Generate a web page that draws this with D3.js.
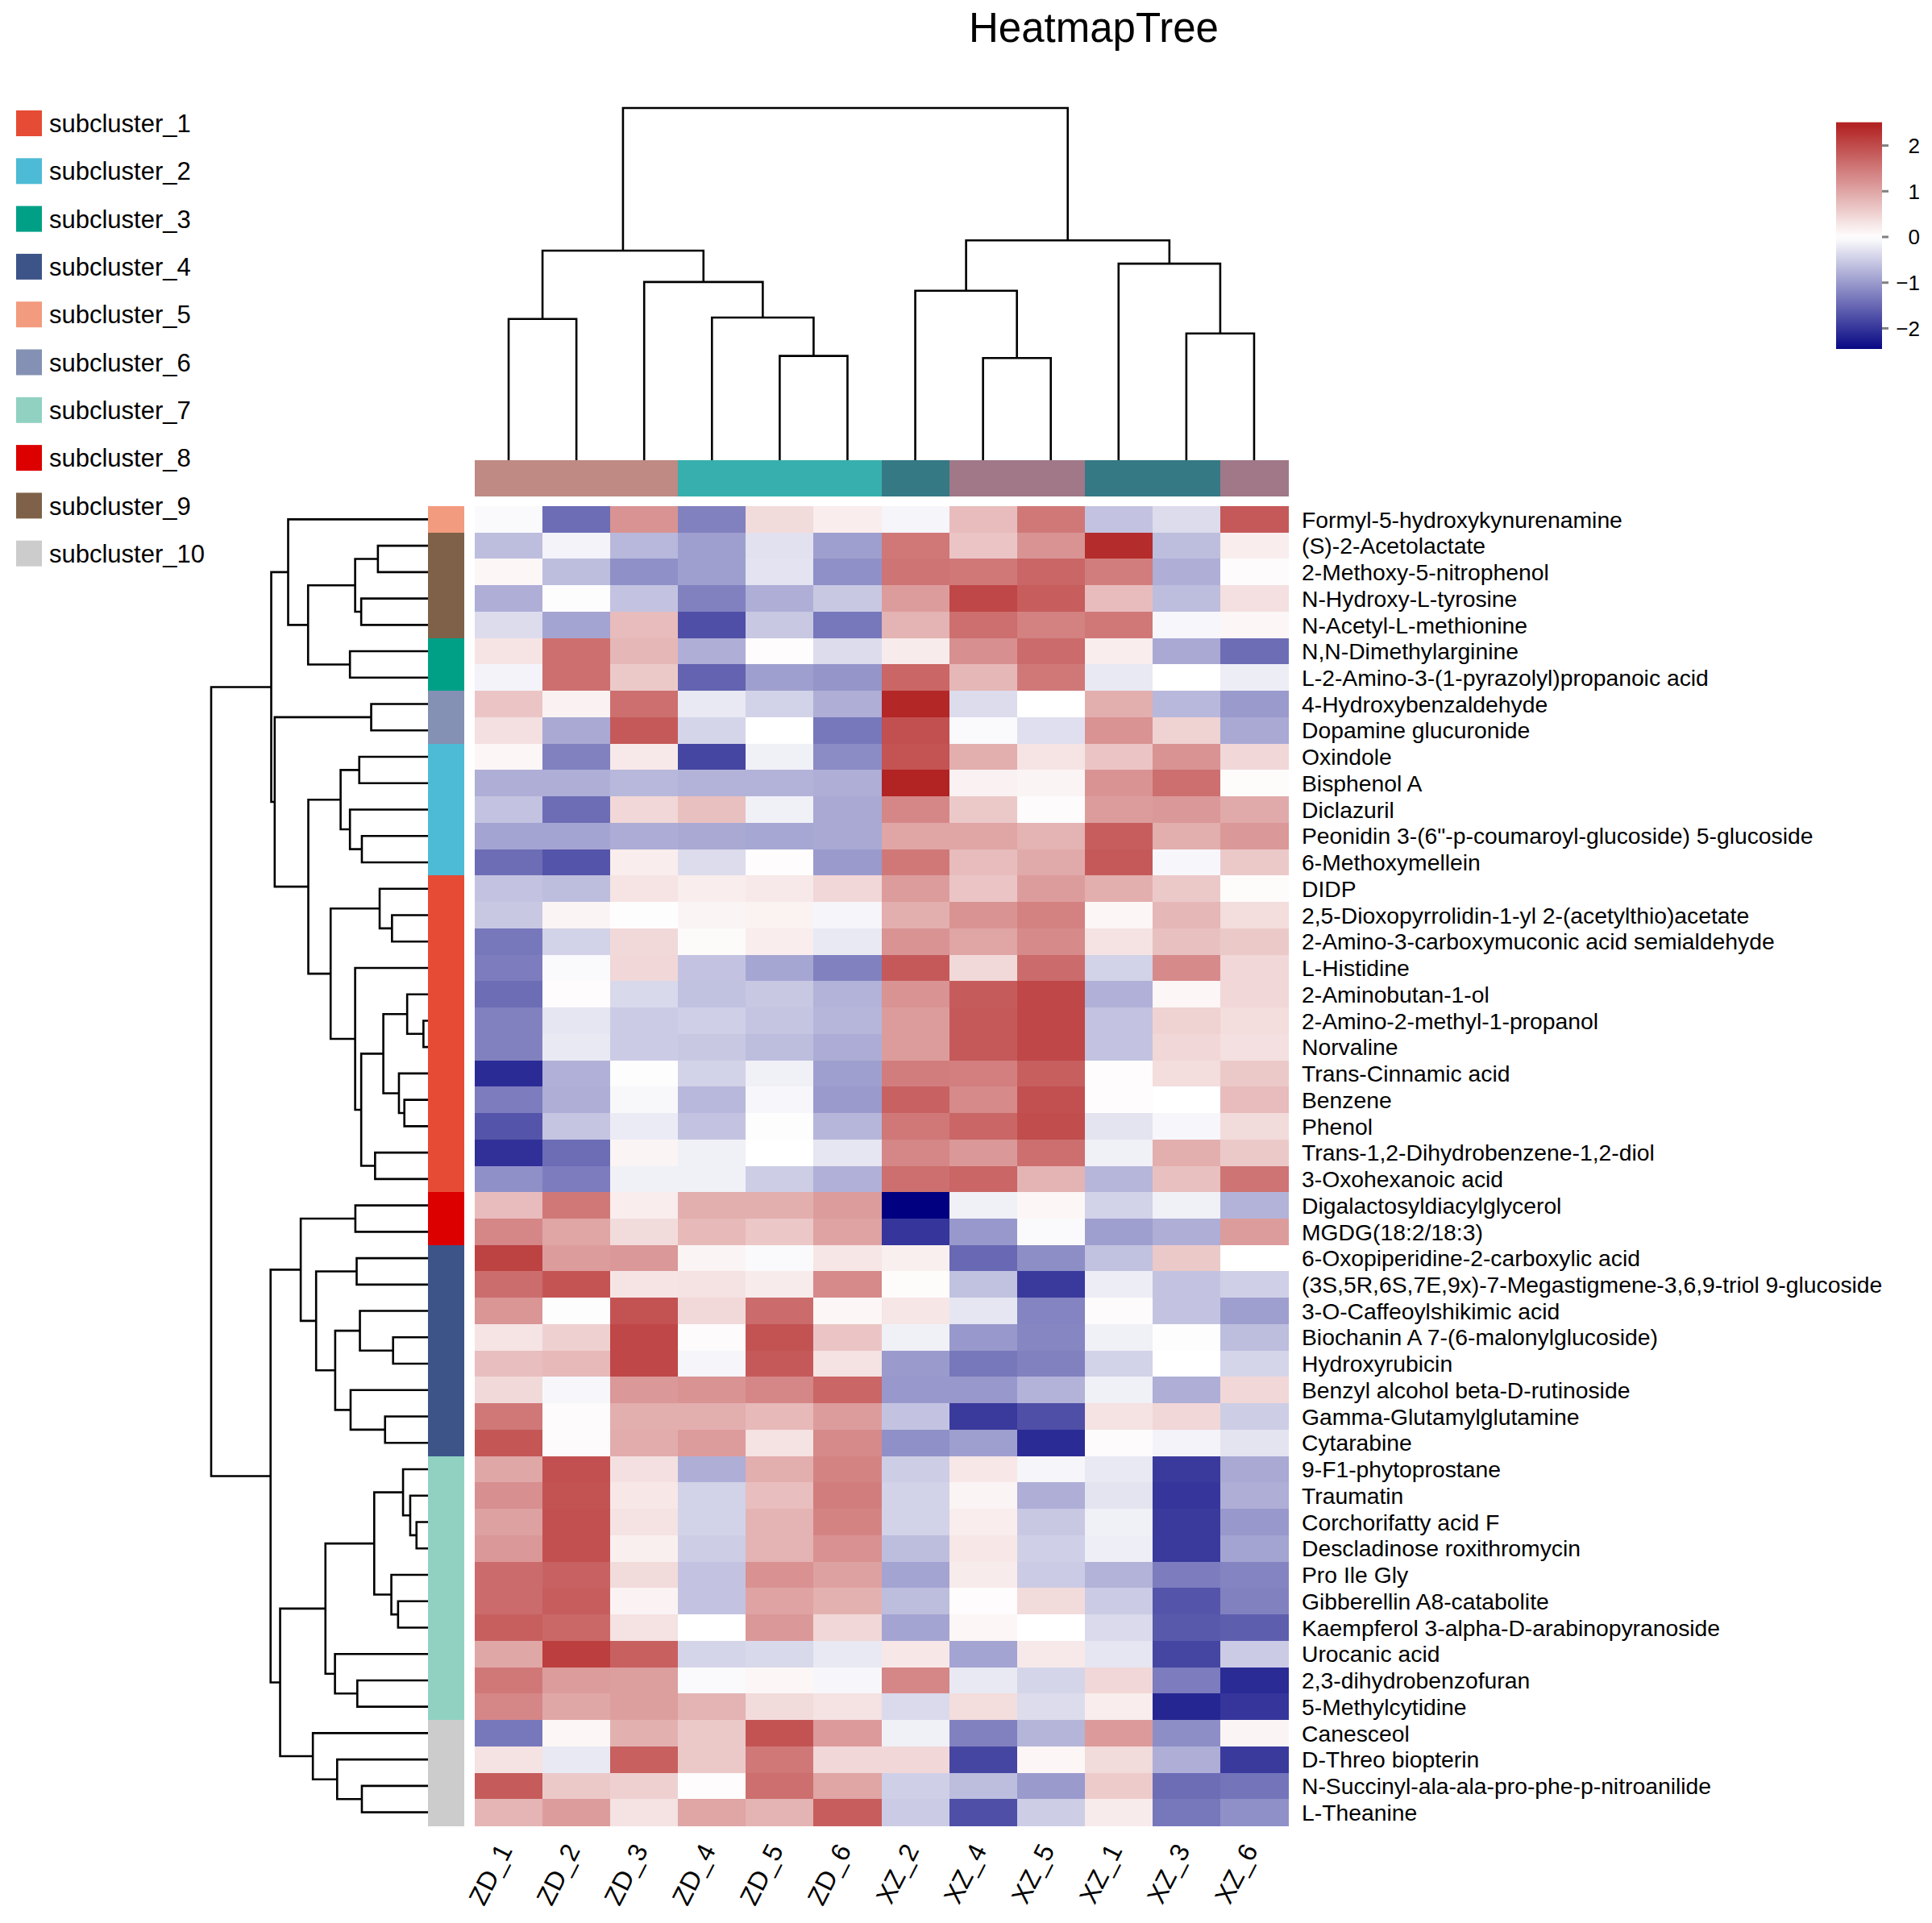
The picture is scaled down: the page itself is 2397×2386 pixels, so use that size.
<!DOCTYPE html>
<html>
<head>
<meta charset="utf-8">
<script src="https://cdn.jsdelivr.net/npm/d3@7"></script>
<style>
  body { margin: 0; background: #fff; }
  svg { display: block; }
  text { font-family: "Liberation Sans", Arial, Helvetica, sans-serif; fill: #000; }
</style>
</head>
<body>
<svg id="chart" width="2397" height="2386"></svg>
<script>
// ---- data ----
var colNames = ["ZD_1","ZD_2","ZD_3","ZD_4","ZD_5","ZD_6","XZ_2","XZ_4","XZ_5","XZ_1","XZ_3","XZ_6"];
var colGroup = [0,0,0,1,1,1,2,3,3,2,2,3];
var colGroupColors = ["#BE8A83","#37AFAE","#357985","#A07888"];

var rowNames = [
  "Formyl-5-hydroxykynurenamine","(S)-2-Acetolactate","2-Methoxy-5-nitrophenol","N-Hydroxy-L-tyrosine",
  "N-Acetyl-L-methionine","N,N-Dimethylarginine","L-2-Amino-3-(1-pyrazolyl)propanoic acid","4-Hydroxybenzaldehyde",
  "Dopamine glucuronide","Oxindole","Bisphenol A","Diclazuril",
  'Peonidin 3-(6"-p-coumaroyl-glucoside) 5-glucoside',"6-Methoxymellein","DIDP",
  "2,5-Dioxopyrrolidin-1-yl 2-(acetylthio)acetate","2-Amino-3-carboxymuconic acid semialdehyde","L-Histidine",
  "2-Aminobutan-1-ol","2-Amino-2-methyl-1-propanol","Norvaline","Trans-Cinnamic acid","Benzene","Phenol",
  "Trans-1,2-Dihydrobenzene-1,2-diol","3-Oxohexanoic acid","Digalactosyldiacylglycerol","MGDG(18:2/18:3)",
  "6-Oxopiperidine-2-carboxylic acid","(3S,5R,6S,7E,9x)-7-Megastigmene-3,6,9-triol 9-glucoside",
  "3-O-Caffeoylshikimic acid","Biochanin A 7-(6-malonylglucoside)","Hydroxyrubicin",
  "Benzyl alcohol beta-D-rutinoside","Gamma-Glutamylglutamine","Cytarabine","9-F1-phytoprostane","Traumatin",
  "Corchorifatty acid F","Descladinose roxithromycin","Pro Ile Gly","Gibberellin A8-catabolite",
  "Kaempferol 3-alpha-D-arabinopyranoside","Urocanic acid","2,3-dihydrobenzofuran","5-Methylcytidine",
  "Canesceol","D-Threo biopterin","N-Succinyl-ala-ala-pro-phe-p-nitroanilide","L-Theanine"
];

// subcluster of each row (1..10)
var rowCluster = [5,9,9,9,9,3,3,6,6,2,2,2,2,2,1,1,1,1,1,1,1,1,1,1,1,1,8,8,4,4,4,4,4,4,4,4,7,7,7,7,7,7,7,7,7,7,10,10,10,10];

var clusterNames = ["subcluster_1","subcluster_2","subcluster_3","subcluster_4","subcluster_5",
                    "subcluster_6","subcluster_7","subcluster_8","subcluster_9","subcluster_10"];
var clusterColors = ["#E64B35","#4DBBD5","#00A087","#3C5488","#F39B7F",
                     "#8491B4","#91D1C2","#DC0000","#7E6148","#CCCCCC"];

// scaled values, one row per metabolite, columns in colNames order
var values = [
  [-0.05,-1.45,1.2,-1.25,0.4,0.2,-0.1,0.75,1.5,-0.6,-0.35,1.85],
  [-0.65,-0.12,-0.7,-0.95,-0.3,-0.95,1.5,0.65,1.2,2.35,-0.65,0.2],
  [0.1,-0.65,-1.1,-0.95,-0.28,-1.1,1.55,1.5,1.7,1.45,-0.8,0.05],
  [-0.8,-0.02,-0.6,-1.25,-0.8,-0.55,1.1,2.05,1.8,0.75,-0.65,0.35],
  [-0.35,-0.9,0.75,-1.75,-0.55,-1.35,0.85,1.6,1.4,1.5,-0.08,0.1],
  [0.3,1.6,0.8,-0.8,0.03,-0.35,0.22,1.25,1.65,0.2,-0.85,-1.45],
  [-0.12,1.6,0.6,-1.55,-0.95,-1.05,1.7,0.8,1.5,-0.22,0,-0.18],
  [0.65,0.15,1.6,-0.22,-0.45,-0.8,2.4,-0.35,0,0.9,-0.7,-1.0],
  [0.35,-0.85,1.85,-0.42,0,-1.35,1.95,-0.05,-0.32,1.2,0.5,-0.85],
  [0.1,-1.25,0.25,-1.85,-0.15,-1.15,1.9,0.9,0.3,0.65,1.2,0.45],
  [-0.8,-0.8,-0.7,-0.75,-0.75,-0.8,2.45,0.15,0.12,1.2,1.6,0.04],
  [-0.6,-1.45,0.45,0.7,-0.15,-0.85,1.35,0.6,0.05,1.1,1.15,0.95],
  [-0.9,-0.9,-0.82,-0.85,-0.87,-0.85,1.0,1.0,0.85,1.8,0.9,1.15],
  [-1.45,-1.7,0.2,-0.35,0.03,-1.0,1.5,0.75,0.95,1.85,-0.08,0.6],
  [-0.6,-0.65,0.3,0.2,0.25,0.45,1.1,0.65,1.1,0.9,0.6,0.04],
  [-0.55,0.12,0.02,0.12,0.14,-0.1,0.9,1.2,1.4,0.1,0.8,0.38],
  [-1.35,-0.45,0.42,0.06,0.2,-0.22,1.2,1.0,1.3,0.32,0.7,0.6],
  [-1.3,-0.05,0.45,-0.6,-0.88,-1.25,1.85,0.42,1.65,-0.45,1.3,0.45],
  [-1.45,0.03,-0.38,-0.62,-0.55,-0.75,1.2,1.82,2.05,-0.78,0.1,0.45],
  [-1.25,-0.25,-0.52,-0.48,-0.58,-0.72,1.1,1.85,2.05,-0.6,0.5,0.38],
  [-1.25,-0.22,-0.52,-0.55,-0.65,-0.82,1.1,1.85,2.05,-0.6,0.45,0.34],
  [-2.1,-0.78,-0.02,-0.45,-0.15,-0.95,1.45,1.42,1.78,0.03,0.38,0.6],
  [-1.3,-0.8,-0.07,-0.7,-0.08,-1.0,1.75,1.3,1.95,0.03,0,0.75],
  [-1.7,-0.58,-0.2,-0.6,0.02,-0.72,1.5,1.7,1.98,-0.27,-0.08,0.4],
  [-2.05,-1.45,0.12,-0.15,0,-0.25,1.35,1.15,1.6,-0.15,0.9,0.6],
  [-1.1,-1.3,-0.15,-0.15,-0.5,-0.78,1.6,1.7,0.85,-0.72,0.7,1.55],
  [0.75,1.5,0.2,0.9,0.9,1.1,-2.53,-0.15,0.1,-0.45,-0.15,-0.75],
  [1.35,1.0,0.4,0.78,0.62,1.02,-2.0,-1.02,-0.05,-0.95,-0.8,1.1],
  [2.1,1.1,1.15,0.12,-0.05,0.28,0.18,-1.5,-1.12,-0.62,0.6,0],
  [1.62,1.9,0.3,0.32,0.22,1.3,0.04,-0.62,-1.95,-0.18,-0.6,-0.48],
  [1.18,0.02,1.92,0.42,1.65,0.1,0.28,-0.25,-1.22,0.05,-0.6,-0.95],
  [0.3,0.52,2.05,0.05,1.92,0.65,-0.15,-1.02,-1.2,-0.15,-0.02,-0.65],
  [0.72,0.78,2.05,-0.1,1.85,0.32,-1.0,-1.35,-1.25,-0.45,0,-0.42],
  [0.42,-0.08,1.15,1.2,1.35,1.7,-1.02,-1.02,-0.75,-0.15,-0.8,0.45],
  [1.5,0.05,0.9,0.9,0.78,1.1,-0.6,-1.95,-1.75,0.32,0.45,-0.5],
  [1.88,0.05,0.92,1.1,0.32,1.3,-1.1,-0.95,-2.1,0.05,-0.12,-0.27],
  [0.98,1.95,0.35,-0.8,0.9,1.38,-0.5,0.27,-0.1,-0.22,-1.95,-0.85],
  [1.25,1.92,0.27,-0.45,0.72,1.45,-0.45,0.12,-0.8,-0.27,-2.0,-0.8],
  [1.05,1.95,0.32,-0.45,0.85,1.38,-0.45,0.2,-0.55,-0.15,-1.95,-1.02],
  [1.15,1.95,0.18,-0.5,0.85,1.22,-0.65,0.27,-0.48,-0.17,-1.95,-0.9],
  [1.65,1.75,0.4,-0.6,1.22,1.05,-0.9,0.22,-0.52,-0.75,-1.3,-1.22],
  [1.65,1.8,0.13,-0.6,1.02,0.87,-0.65,0.03,0.4,-0.52,-1.7,-1.25],
  [1.78,1.68,0.32,0,1.15,0.45,-0.9,0.1,0,-0.37,-1.65,-1.6],
  [0.98,2.15,1.77,-0.42,-0.38,-0.22,0.27,-0.9,0.25,-0.25,-1.85,-0.52],
  [1.5,1.1,1.08,-0.05,0.1,-0.08,1.35,-0.22,-0.42,0.45,-1.3,-2.1],
  [1.35,0.98,1.08,0.85,0.4,0.32,-0.37,0.38,-0.35,0.2,-2.15,-2.0],
  [-1.35,0.1,0.88,0.6,1.92,1.12,-0.15,-1.25,-0.73,1.12,-1.12,0.12],
  [0.32,-0.22,1.77,0.6,1.5,0.45,0.45,-1.85,0.1,0.4,-0.8,-1.95],
  [1.82,0.6,0.52,0.03,1.6,1.0,-0.48,-0.65,-1.0,0.58,-1.45,-1.38],
  [0.82,1.1,0.32,1.0,0.85,1.8,-0.52,-1.75,-0.5,0.22,-1.35,-1.1]
];

// dendrograms: [mergeHeight, left, right], leaves are indices
var colTree = [10,
  [5.95, [4.01, 0, 1], [5.06, 2, [4.05, 3, [2.96, 4, 5]]]],
  [6.24, [4.81, 6, [2.90, 7, 8]], [5.58, 9, [3.60, 10, 11]]]
];
var rowTree = [10,
  [7.23,
    [6.45, 0, [5.53, [3.36, [2.31, 1, 2], [3.08, 3, 4]], [3.60, 5, 6]]],
    [7.07, [2.62, 7, 8],
      [5.52,
        [4.03, [3.17, 9, 10], [3.60, 11, [3.05, 12, 13]]],
        [4.49, [2.23, 14, [1.66, 15, 16]],
          [3.36, 17, [3.08, [2.06, [0.96, 18, [0.21, 19, 20]], [1.34, 21, [1.09, 22, 23]]], [2.44, 24, 25]]]]]]],
  [7.26,
    [5.87, [3.35, 26, 27],
      [5.16, [3.29, 28, 29],
        [4.28, [3.14, 30, [1.61, 31, 32]], [3.57, 33, [1.98, 34, 35]]]]],
    [6.82,
      [4.73,
        [2.48, [1.15, 36, [0.82, 37, [0.53, 38, 39]]], [1.69, 40, [1.38, 41, 42]]],
        [4.29, 43, [3.26, 44, 45]]],
      [5.31, 46, [4.19, 47, [3.05, 48, 49]]]]]
];

var legendTicks = [-2, -1, 0, 1, 2];

// ---- layout ----
var svg = d3.select("#chart");
var hmLeft = 589, hmRight = 1598, hmTop = 628, hmBottom = 2265;

var x = d3.scaleBand().domain(d3.range(colNames.length)).range([hmLeft, hmRight]);
var y = d3.scaleBand().domain(d3.range(rowNames.length)).range([hmTop, hmBottom]);
var color = d3.scaleLinear().domain([-2.53, 0, 2.46]).range(["#000080", "#ffffff", "#B22222"]).clamp(true);

// title
svg.append("text").attr("x", 1357).attr("y", 52).attr("text-anchor", "middle")
  .style("font-size", "51px").text("HeatmapTree");

// heatmap cells
var cells = [];
values.forEach(function(row, i) {
  row.forEach(function(v, j) { cells.push({r: i, c: j, v: v}); });
});
svg.append("g").selectAll("rect").data(cells).enter().append("rect")
  .attr("x", function(d) { return x(d.c); })
  .attr("y", function(d) { return y(d.r); })
  .attr("width", x.bandwidth() + 0.5)
  .attr("height", y.bandwidth() + 0.5)
  .attr("shape-rendering", "crispEdges")
  .style("fill", function(d) { return color(d.v); });

// row annotation bar
svg.append("g").selectAll("rect").data(rowCluster).enter().append("rect")
  .attr("x", 531).attr("width", 45)
  .attr("y", function(d, i) { return y(i); })
  .attr("height", y.bandwidth() + 0.5)
  .attr("shape-rendering", "crispEdges")
  .style("fill", function(d) { return clusterColors[d - 1]; });

// column annotation bar
svg.append("g").selectAll("rect").data(colGroup).enter().append("rect")
  .attr("y", 571).attr("height", 45)
  .attr("x", function(d, i) { return x(i); })
  .attr("width", x.bandwidth() + 0.5)
  .attr("shape-rendering", "crispEdges")
  .style("fill", function(d) { return colGroupColors[d]; });

// row labels
svg.append("g").selectAll("text").data(rowNames).enter().append("text")
  .attr("x", 1615)
  .attr("y", function(d, i) { return y(i) + y.bandwidth() / 2; })
  .attr("dy", "0.36em")
  .style("font-size", "28.3px")
  .text(function(d) { return d; });

// column labels
svg.append("g").selectAll("text").data(colNames).enter().append("text")
  .attr("transform", function(d, i) {
    return "translate(" + (x(i) + x.bandwidth() / 2 - 5) + "," + 2290 + ") rotate(-63)";
  })
  .attr("text-anchor", "end")
  .attr("dy", "0.36em")
  .style("font-size", "32.5px")
  .text(function(d) { return d; });

// dendrograms
function layoutTree(tree, band) {
  var root = d3.hierarchy(tree, function(d) { return Array.isArray(d) ? d.slice(1) : null; });
  root.eachAfter(function(n) {
    if (n.children) {
      n.h = n.data[0];
      n.pos = (n.children[0].pos + n.children[1].pos) / 2;
    } else {
      n.h = 0;
      n.pos = band(n.data) + band.bandwidth() / 2;
    }
  });
  return root;
}

var rowH = d3.scaleLinear().domain([0, 10]).range([531, 262]);
var rowRoot = layoutTree(rowTree, y);
svg.append("g").selectAll("path")
  .data(rowRoot.descendants().filter(function(n) { return n.children; }))
  .enter().append("path")
  .attr("d", function(n) {
    var a = n.children[0], b = n.children[1];
    return "M" + rowH(a.h) + "," + a.pos + "H" + rowH(n.h) + "V" + b.pos + "H" + rowH(b.h);
  })
  .style("fill", "none").style("stroke", "#000").style("stroke-width", 2.6);

var colH = d3.scaleLinear().domain([0, 10]).range([571, 134]);
var colRoot = layoutTree(colTree, x);
svg.append("g").selectAll("path")
  .data(colRoot.descendants().filter(function(n) { return n.children; }))
  .enter().append("path")
  .attr("d", function(n) {
    var a = n.children[0], b = n.children[1];
    return "M" + a.pos + "," + colH(a.h) + "V" + colH(n.h) + "H" + b.pos + "V" + colH(b.h);
  })
  .style("fill", "none").style("stroke", "#000").style("stroke-width", 2.6);

// cluster legend
var leg = svg.append("g").selectAll("g").data(clusterNames).enter().append("g")
  .attr("transform", function(d, i) { return "translate(20," + (137 + i * 59.3) + ")"; });
leg.append("rect").attr("width", 32).attr("height", 32)
  .style("fill", function(d, i) { return clusterColors[i]; });
leg.append("text").attr("x", 41).attr("y", 16).attr("dy", "0.36em")
  .style("font-size", "31px").text(function(d) { return d; });

// colour key
var keyY = d3.scaleLinear().domain([0, 1]).range([294, 294 - 56.7]);
var keyTop = 151.7, keyBottom = 433, keyX = 2278, keyW = 57;
var defs = svg.append("defs");
var grad = defs.append("linearGradient").attr("id", "keygrad")
  .attr("x1", 0).attr("y1", 0).attr("x2", 0).attr("y2", 1);
d3.range(0, 1.0001, 0.02).forEach(function(t) {
  var v = keyY.invert(keyTop + t * (keyBottom - keyTop));
  grad.append("stop").attr("offset", t).attr("stop-color", color(v));
});
svg.append("rect").attr("x", keyX).attr("y", keyTop).attr("width", keyW)
  .attr("height", keyBottom - keyTop).style("fill", "url(#keygrad)");
var key = svg.append("g").selectAll("g").data(legendTicks).enter().append("g");
key.append("line")
  .attr("x1", keyX + keyW).attr("x2", keyX + keyW + 8)
  .attr("y1", function(d) { return keyY(d); }).attr("y2", function(d) { return keyY(d); })
  .style("stroke", "#808080").style("stroke-width", 3);
key.append("text")
  .attr("x", 2382).attr("y", function(d) { return keyY(d); }).attr("dy", "0.36em")
  .attr("text-anchor", "end").style("font-size", "26px")
  .text(function(d) { return d < 0 ? "\u2212" + Math.abs(d) : d; });
</script>
</body>
</html>
